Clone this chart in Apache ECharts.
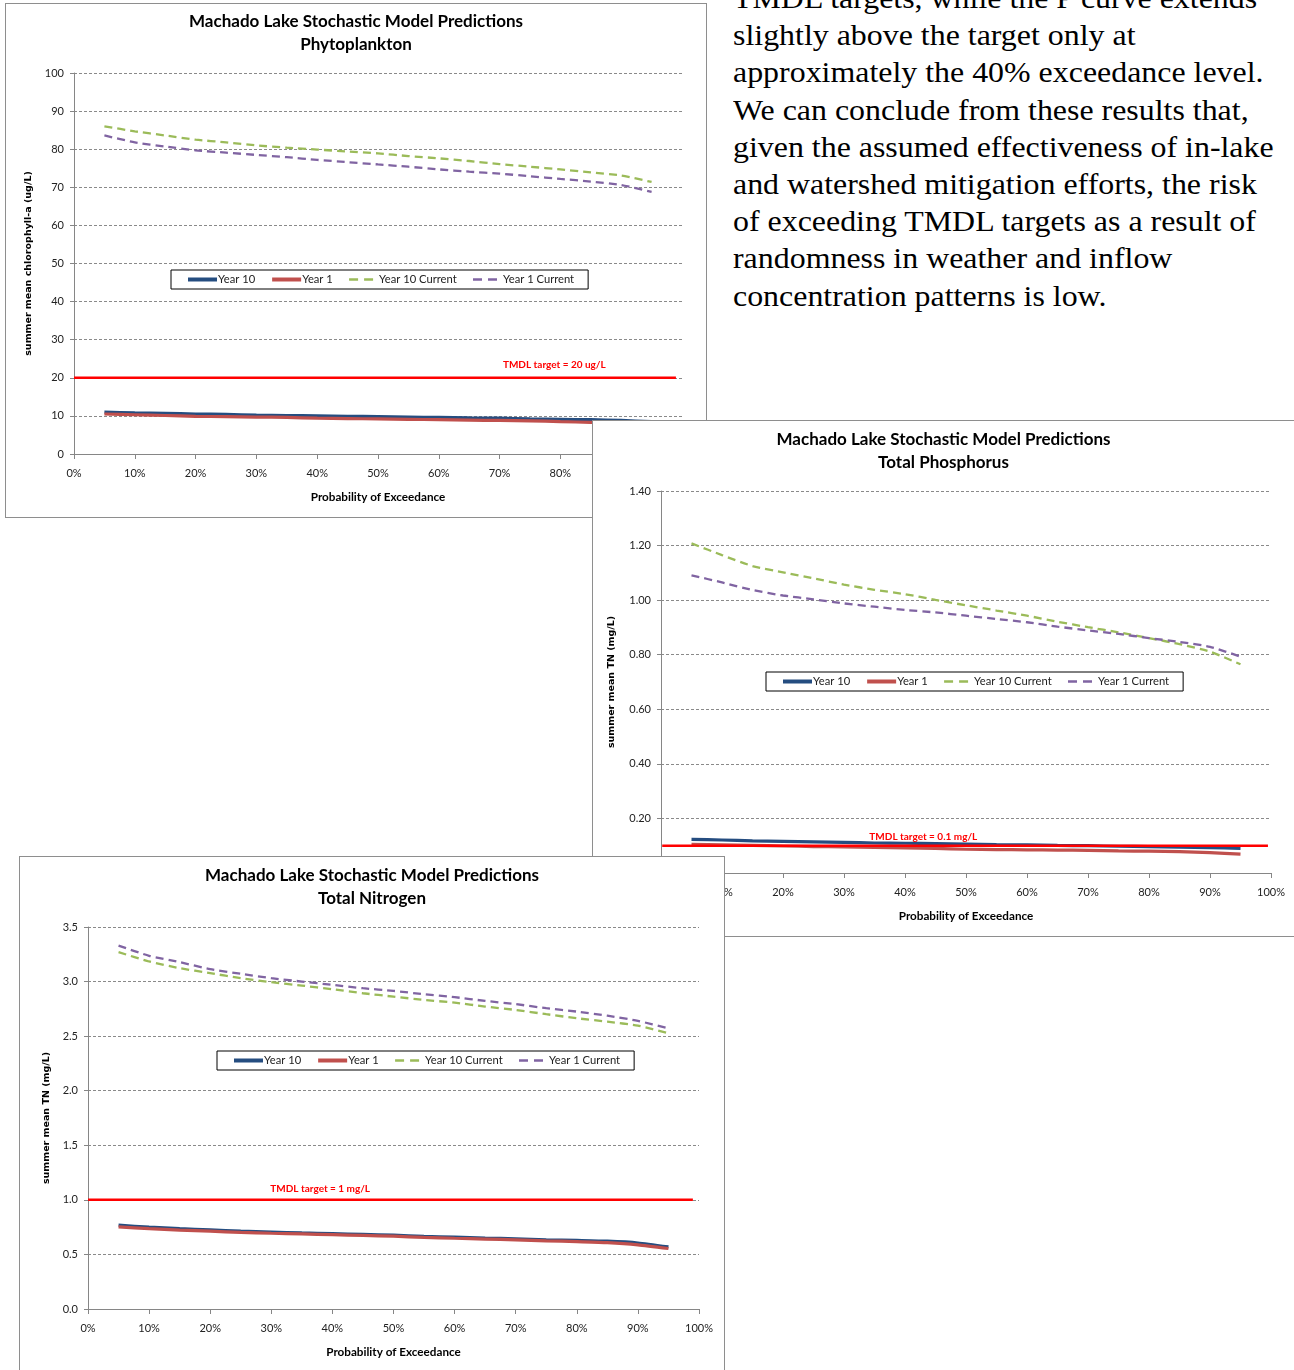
<!DOCTYPE html>
<html><head><meta charset="utf-8">
<script src="https://cdn.jsdelivr.net/npm/echarts@6/dist/echarts.min.js"></script>
<style>
html,body{margin:0;padding:0;background:#fff;}
body{width:1294px;height:1370px;overflow:hidden;position:relative;}
.panel{position:absolute;border:1px solid #8e8e8e;background:#fff;box-sizing:border-box;}
#txt{position:absolute;left:733px;top:-20px;font-family:'Liberation Serif',serif;font-size:29px;line-height:37.2px;white-space:pre;color:#000;z-index:0;transform:scaleX(1.1);transform-origin:0 0;}
</style></head>
<body>
<div id="txt">TMDL targets, while the P curve extends
slightly above the target only at
approximately the 40% exceedance level.
We can conclude from these results that,
given the assumed effectiveness of in-lake
and watershed mitigation efforts, the risk
of exceeding TMDL targets as a result of
randomness in weather and inflow
concentration patterns is low.</div>
<div id="p1" class="panel" style="left:5px;top:3px;width:702px;height:515px;z-index:1;"></div>
<div id="p2" class="panel" style="left:592px;top:420px;width:702px;height:517px;z-index:2;border-right:none;"></div>
<div id="p3" class="panel" style="left:19px;top:856px;width:706px;height:520px;z-index:3;"></div>
<script>
// exceedance probabilities (%)
const PROB = [5,10,15,20,25,30,35,40,45,50,55,60,65,70,75,80,85,90,95];
const SERIES_NAMES = ['Year 10','Year 1','Year 10 Current','Year 1 Current'];

// Phytoplankton (chlorophyll-a, ug/L)
const CHL_Y10  = [11.0,10.8,10.7,10.5,10.4,10.2,10.1,10.0,9.9,9.8,9.7,9.6,9.5,9.4,9.2,9.1,9.0,8.8,8.5];
const CHL_Y1   = [10.5,10.3,10.1,9.9,9.8,9.7,9.6,9.4,9.3,9.2,9.1,9.0,8.9,8.8,8.7,8.5,8.3,8.0,7.6];
const CHL_Y10C = [86.0,84.7,83.6,82.5,81.8,81.0,80.4,79.9,79.4,78.9,78.2,77.6,76.9,76.1,75.4,74.7,73.9,73.1,71.4];
const CHL_Y1C  = [83.6,81.8,80.7,79.7,79.1,78.5,77.9,77.2,76.6,76.0,75.4,74.7,74.1,73.6,72.9,72.2,71.5,70.6,68.8];
const CHL_TMDL = 20;

// Total Phosphorus (mg/L)
const TP_Y10  = [0.123,0.121,0.118,0.116,0.114,0.112,0.110,0.109,0.108,0.106,0.104,0.103,0.101,0.100,0.098,0.097,0.095,0.093,0.090];
const TP_Y1   = [0.105,0.103,0.101,0.099,0.097,0.096,0.094,0.092,0.090,0.087,0.086,0.085,0.084,0.083,0.081,0.080,0.078,0.075,0.069];
const TP_Y10C = [1.208,1.165,1.125,1.102,1.080,1.057,1.038,1.022,1.001,0.981,0.962,0.943,0.921,0.901,0.882,0.861,0.839,0.811,0.765];
const TP_Y1C  = [1.091,1.065,1.037,1.017,1.003,0.988,0.976,0.964,0.955,0.943,0.931,0.919,0.903,0.889,0.876,0.861,0.847,0.829,0.793];
const TP_TMDL = 0.1;

// Total Nitrogen (mg/L)
const TN_Y10  = [0.768,0.750,0.736,0.725,0.713,0.705,0.697,0.690,0.683,0.676,0.666,0.658,0.650,0.643,0.634,0.628,0.621,0.605,0.569];
const TN_Y1   = [0.752,0.736,0.723,0.713,0.702,0.694,0.688,0.681,0.674,0.667,0.656,0.648,0.641,0.634,0.625,0.617,0.608,0.588,0.554];
const TN_Y10C = [3.270,3.184,3.123,3.077,3.031,2.994,2.963,2.930,2.893,2.862,2.832,2.807,2.771,2.740,2.701,2.664,2.633,2.596,2.527];
const TN_Y1C  = [3.330,3.236,3.178,3.114,3.071,3.031,3.000,2.970,2.939,2.915,2.884,2.857,2.823,2.793,2.756,2.725,2.688,2.640,2.572];
const TN_TMDL = 1;

const COLORS = ['#254d80','#c0504d','#9bbb59','#8064a2'];
const SANS = 'Lato, "Open Sans", sans-serif';

function pairs(vals){ return PROB.map((p,i)=>[p, vals[i]]); }

function makeChart(id, cfg){
  const chart = echarts.init(document.getElementById(id), null, {renderer:'canvas'});
  const vals = [cfg.y10, cfg.y1, cfg.y10c, cfg.y1c];
  const series = vals.map((v,i)=>({
    name: SERIES_NAMES[i], type:'line', data: pairs(v), symbol:'none', smooth:0.2,
    lineStyle:{color:COLORS[i], width: i<2 ? 3.2 : 2.3, type: i<2 ? 'solid' : [8,5]},
    itemStyle:{color:COLORS[i]}, z: 3
  }));
  series.push({
    name:'TMDL', type:'line', symbol:'none', data:[[cfg.tmdlFrom, cfg.tmdl],[cfg.tmdlTo, cfg.tmdl]],
    lineStyle:{color:'#ff0000', width:2.5}, z:4, silent:true,
    markPoint:{symbol:'circle', symbolSize:0, silent:true, data:[{coord:[cfg.labelX, cfg.tmdl]}],
      label:{show:true, position:'top', distance:cfg.labelDist, formatter:cfg.tmdlText,
        color:'#ff0000', fontWeight:'bold', fontSize:10, fontFamily:SANS}}
  });
  const legendData = SERIES_NAMES.map((n,i)=>({name:n,
    lineStyle:{width: i<2 ? 4 : 2.6, type: i<2 ? 'solid' : [9,6]}}));
  chart.setOption({
    animation:false,
    backgroundColor:'#fff',
    title:{text:'Machado Lake Stochastic Model Predictions\n'+cfg.sub, left:'center', top:cfg.titleTop, padding:0,
      textStyle:{fontSize:17, fontWeight:'bold', lineHeight:23, fontFamily:SANS, color:'#000'}},
    legend:{data:legendData, left:cfg.legendLeft, top:cfg.legendTop, orient:'horizontal',
      borderColor:'#000', borderWidth:1, padding:[4,14,4,15], itemGap:15, itemWidth:29, itemHeight:12,
      itemStyle:{color:'rgba(0,0,0,0)', borderColor:'rgba(0,0,0,0)', borderWidth:0},
      textStyle:{fontSize:11.2, fontFamily:SANS, color:'#222', padding:[0,0,0,-4]}},
    grid:cfg.grid,
    xAxis:{type:'value', min:0, max:100, interval:10,
      name:'Probability of Exceedance', nameLocation:'middle', nameGap:37,
      nameTextStyle:{fontSize:11.7, fontWeight:'bold', fontFamily:SANS, color:'#000'},
      axisLine:{lineStyle:{color:'#868686'}}, axisTick:{show:true, length:5, lineStyle:{color:'#868686'}},
      axisLabel:{formatter:v=>v+'%', margin:14, fontSize:11, fontFamily:SANS, color:'#222'},
      splitLine:{show:false}},
    yAxis:{type:'value', min:cfg.ymin, max:cfg.ymax, interval:cfg.yint,
      name:cfg.yName, nameLocation:'middle', nameGap:cfg.nameGap, nameRotate:90,
      nameTextStyle:{fontSize:9.5, fontWeight:'bold', fontFamily:'"DejaVu Sans", sans-serif', color:'#000'},
      axisLine:{show:true, lineStyle:{color:'#868686'}}, axisTick:{show:true, length:4, lineStyle:{color:'#868686'}},
      axisLabel:{formatter:v=>v.toFixed(cfg.dec), margin:10, fontSize:11, fontFamily:SANS, color:'#222'},
      splitLine:{show:true, lineStyle:{color:'#8a8a8a', width:1, type:[3,2]}}},
    series: series
  });
}

makeChart('p1', {sub:'Phytoplankton', titleTop:6, y10:CHL_Y10, y1:CHL_Y1, y10c:CHL_Y10C, y1c:CHL_Y1C,
  tmdl:CHL_TMDL, tmdlFrom:0, tmdlTo:99, labelX:79, labelDist:8, tmdlText:'TMDL target = 20 ug/L',
  grid:{left:68, top:69, width:608, height:381}, ymin:0, ymax:100, yint:10, dec:0,
  yName:'summer mean chlorophyll-a (ug/L)', nameGap:38, legendLeft:165, legendTop:266});

makeChart('p2', {sub:'Total Phosphorus', titleTop:7, y10:TP_Y10, y1:TP_Y1, y10c:TP_Y10C, y1c:TP_Y1C,
  tmdl:TP_TMDL, tmdlFrom:0.2, tmdlTo:99.5, labelX:43, labelDist:4, tmdlText:'TMDL target = 0.1 mg/L',
  grid:{left:68, top:70, width:610, height:382}, ymin:0, ymax:1.4, yint:0.2, dec:2,
  yName:'summer mean TN (mg/L)', nameGap:44, legendLeft:173, legendTop:251});

makeChart('p3', {sub:'Total Nitrogen', titleTop:7, y10:TN_Y10, y1:TN_Y1, y10c:TN_Y10C, y1c:TN_Y1C,
  tmdl:TN_TMDL, tmdlFrom:0, tmdlTo:99, labelX:38, labelDist:6, tmdlText:'TMDL target = 1 mg/L',
  grid:{left:68, top:70, width:611, height:382}, ymin:0, ymax:3.5, yint:0.5, dec:1,
  yName:'summer mean TN (mg/L)', nameGap:36, legendLeft:197, legendTop:194});
</script>
</body></html>
